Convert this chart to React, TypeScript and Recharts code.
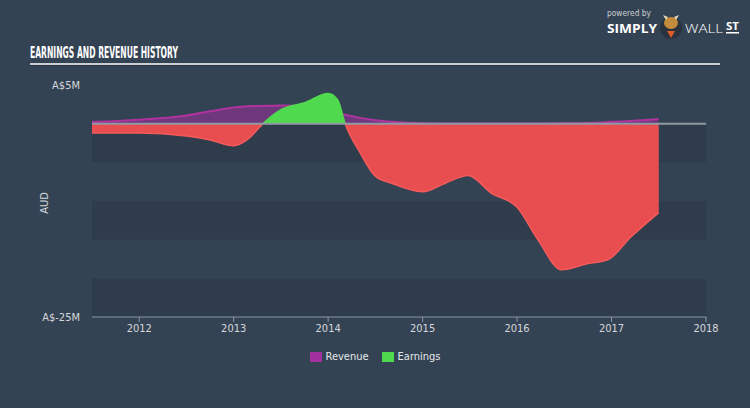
import {
  Area,
  ComposedChart,
  ReferenceArea,
  ReferenceLine,
  XAxis,
  YAxis,
} from "recharts";

const years = [
  2011.5, 2012.0, 2012.5, 2012.75, 2013.0, 2013.15, 2013.31, 2013.5, 2013.75,
  2014.0, 2014.1, 2014.18, 2014.34, 2014.5, 2014.67, 2015.0, 2015.24, 2015.48,
  2015.73, 2016.0, 2016.22, 2016.47, 2016.75, 2016.96, 2017.21, 2017.5,
];

// A$ millions
const revenue = [
  0.2, 0.5, 1.05, 1.6, 2.1, 2.25, 2.3, 2.35, 2.2, 1.7, 1.4, 1.15, 0.75, 0.45,
  0.25, 0.05, 0.03, 0.02, 0.02, 0.02, 0.03, 0.05, 0.1, 0.2, 0.35, 0.6,
];

const earnings = [
  -1.2, -1.2, -1.6, -2.1, -2.85, -2.0, 0, 1.8, 2.7, 3.9, 3.1, 0, -3.8, -6.8,
  -7.7, -8.8, -7.7, -6.7, -9.0, -10.8, -15.0, -18.9, -18.1, -17.6, -14.6, -11.5,
];

const xTicks = [2012, 2013, 2014, 2015, 2016, 2017, 2018];
const yTicks = [5, -25];
const darkBands = [
  [0, -5],
  [-10, -15],
  [-20, -25],
];

const data = years.map((year, i) => ({
  year,
  revenue: revenue[i],
  earnings: earnings[i],
}));

const eMax = Math.max(...earnings);
const eMin = Math.min(...earnings);
const splitOffset = eMax / (eMax - eMin);

const BG = "#344353";
const FONT = "'Liberation Sans Narrow', 'DejaVu Sans Condensed', sans-serif";

const yLabel = (v: number) => `A$${v}M`;

export default function App() {
  return (
    <div
      style={{
        position: "relative",
        width: 750,
        height: 408,
        background: BG,
        fontFamily: FONT,
        overflow: "hidden",
      }}
    >
      <style>{`body{margin:0}`}</style>
      <ComposedChart
        width={750}
        height={408}
        data={data}
        margin={{ top: 85, right: 44, bottom: 61, left: 0 }}
      >
        <defs>
          <linearGradient id="earnFill" x1="0" y1="0" x2="0" y2="1">
            <stop offset={splitOffset} stopColor="#4fd94f" stopOpacity={1} />
            <stop offset={splitOffset} stopColor="#e84e50" stopOpacity={1} />
          </linearGradient>
          <linearGradient id="earnLine" x1="0" y1="0" x2="0" y2="1">
            <stop offset={splitOffset} stopColor="#4fd94f" stopOpacity={1} />
            <stop offset={splitOffset} stopColor="#f45a5a" stopOpacity={1} />
          </linearGradient>
        </defs>
        {darkBands.map(([a, b]) => (
          <ReferenceArea
            key={a}
            y1={a}
            y2={b}
            fill="#2f3c4b"
            fillOpacity={1}
            stroke="none"
          />
        ))}
        <XAxis
          dataKey="year"
          type="number"
          domain={[2011.5, 2018]}
          ticks={xTicks}
          height={30}
          stroke="#8a96a2"
          tickSize={5}
          tick={{ fill: "#d4d8dc", fontSize: 11, fontFamily: FONT }}
        />
        <YAxis
          type="number"
          domain={[-25, 5]}
          ticks={yTicks}
          width={92}
          axisLine={false}
          tickLine={false}
          tickMargin={6}
          tickFormatter={yLabel}
          tick={{ fill: "#d4d8dc", fontSize: 11, fontFamily: FONT }}
        />
        <ReferenceLine y={0} stroke="#8f9aa4" strokeWidth={2} />
        <Area
          dataKey="revenue"
          type="monotone"
          stroke="#b0339f"
          strokeWidth={2}
          fill="#a3309f"
          fillOpacity={0.55}
          isAnimationActive={false}
        />
        <Area
          dataKey="earnings"
          type="monotone"
          stroke="url(#earnLine)"
          strokeWidth={1.5}
          fill="url(#earnFill)"
          fillOpacity={1}
          baseValue={0}
          isAnimationActive={false}
        />
      </ComposedChart>

      <svg
        width={750}
        height={408}
        style={{ position: "absolute", left: 0, top: 0, pointerEvents: "none" }}
      >
        <text
          x={30}
          y={58}
          fill="#ffffff"
          fontSize={16}
          fontWeight="bold"
          fontFamily={FONT}
          textLength={148}
          lengthAdjust="spacingAndGlyphs"
        >
          EARNINGS AND REVENUE HISTORY
        </text>
        <rect x={30} y={63} width={690} height={2} fill="#c9ced3" />
        <rect x={30} y={65} width={690} height={1} fill="#2a3644" />

        <text
          x={45}
          y={203}
          fill="#d4d8dc"
          fontSize={11}
          fontFamily={FONT}
          textAnchor="middle"
          transform="rotate(-90 45 203)"
          dominantBaseline="middle"
        >
          AUD
        </text>

        <text
          x={607}
          y={16}
          fill="#c9ced3"
          fontSize={9}
          fontFamily={FONT}
          textLength={44}
          lengthAdjust="spacingAndGlyphs"
        >
          powered by
        </text>
        <text
          x={607}
          y={33}
          fill="#ffffff"
          fontSize={13}
          fontWeight="bold"
          fontFamily="'Open Sans', sans-serif"
          textLength={50}
          lengthAdjust="spacingAndGlyphs"
        >
          SIMPLY
        </text>
        <circle cx={671} cy={28} r={11} fill="#2a323d" />
        <ellipse cx={671} cy={23} rx={7} ry={6} fill="#c58b3c" />
        <path d="M663 15 L666 20 L668 17 Z M679 15 L676 20 L674 17 Z" fill="#e8d9b5" />
        <path d="M667 31 L671 38 L675 31 Z" fill="#e05a2a" />
        <text
          x={685}
          y={33}
          fill="#ffffff"
          fontSize={13}
          fontWeight={300}
          fontFamily="'Open Sans', sans-serif"
          textLength={38}
          lengthAdjust="spacingAndGlyphs"
        >
          WALL
        </text>
        <text
          x={726}
          y={30}
          fill="#ffffff"
          fontSize={10}
          fontWeight="bold"
          fontFamily="'Open Sans', sans-serif"
          textLength={13}
          lengthAdjust="spacingAndGlyphs"
        >
          ST
        </text>
        <rect x={726} y={32} width={13} height={1.5} fill="#ffffff" />
      </svg>

      <div
        style={{
          position: "absolute",
          top: 350,
          left: 0,
          width: 750,
          display: "flex",
          justifyContent: "center",
          gap: 13,
          fontSize: 11,
          color: "#e4e7ea",
        }}
      >
        <div style={{ display: "flex", alignItems: "center" }}>
          <span
            style={{
              width: 12,
              height: 10,
              background: "#a3309f",
              marginRight: 4,
              display: "inline-block",
            }}
          />
          Revenue
        </div>
        <div style={{ display: "flex", alignItems: "center" }}>
          <span
            style={{
              width: 12,
              height: 10,
              background: "#4fd94f",
              marginRight: 4,
              display: "inline-block",
            }}
          />
          Earnings
        </div>
      </div>
    </div>
  );
}
